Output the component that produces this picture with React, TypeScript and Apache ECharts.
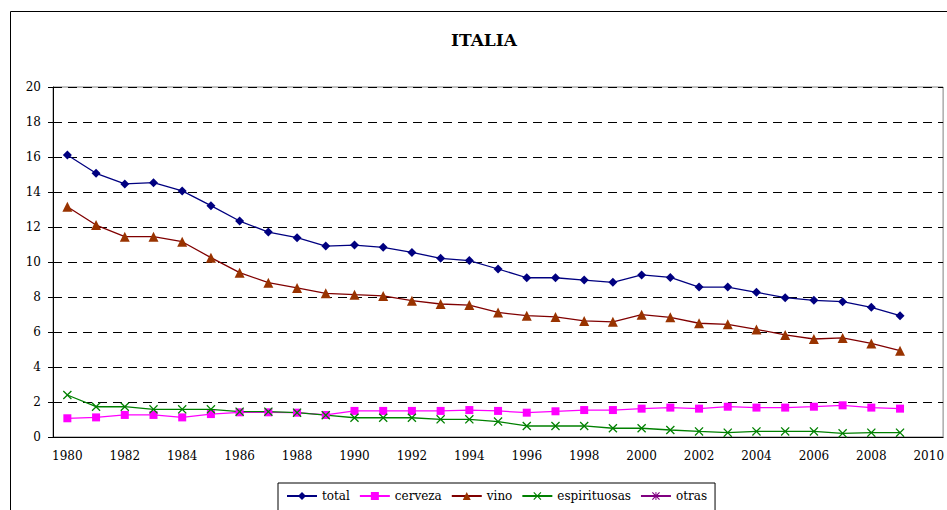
import React, { useEffect, useRef } from "react";
import * as echarts from "echarts";

const years = [
  "1980", "1981", "1982", "1983", "1984", "1985", "1986", "1987", "1988", "1989",
  "1990", "1991", "1992", "1993", "1994", "1995", "1996", "1997", "1998", "1999",
  "2000", "2001", "2002", "2003", "2004", "2005", "2006", "2007", "2008", "2009", "2010",
];
const total = [16.11, 15.07, 14.46, 14.53, 14.06, 13.22, 12.34, 11.71, 11.39, 10.91, 10.97, 10.84, 10.55, 10.21, 10.08, 9.6, 9.1, 9.1, 8.97, 8.84, 9.26, 9.12, 8.57, 8.57, 8.27, 7.96, 7.81, 7.73, 7.41, 6.93];
const cerveza = [1.07, 1.12, 1.26, 1.26, 1.12, 1.31, 1.41, 1.41, 1.39, 1.26, 1.49, 1.49, 1.49, 1.49, 1.54, 1.49, 1.39, 1.47, 1.54, 1.54, 1.62, 1.68, 1.62, 1.73, 1.68, 1.68, 1.73, 1.81, 1.68, 1.62];
const vino = [13.16, 12.11, 11.45, 11.45, 11.16, 10.25, 9.39, 8.82, 8.52, 8.21, 8.13, 8.06, 7.79, 7.6, 7.54, 7.12, 6.93, 6.86, 6.63, 6.58, 6.99, 6.84, 6.5, 6.44, 6.15, 5.83, 5.6, 5.66, 5.35, 4.93];
const espirituosas = [2.4, 1.73, 1.73, 1.58, 1.58, 1.58, 1.45, 1.45, 1.39, 1.25, 1.1, 1.1, 1.1, 1.01, 1.01, 0.88, 0.63, 0.63, 0.63, 0.5, 0.5, 0.4, 0.32, 0.25, 0.32, 0.32, 0.32, 0.21, 0.25, 0.25];
const otras: (number | null)[] = [];

const FONT = "DejaVu Serif";
const X_SYMBOL = "path://M0,1L1,0L5,4L9,0L10,1L6,5L10,9L9,10L5,6L1,10L0,9L4,5Z";
const STAR_SYMBOL = "path://M0,1L1,0L5,4L9,0L10,1L6,5L10,9L9,10L5,6L1,10L0,9L4,5Z M4.4,0L5.6,0L5.6,10L4.4,10Z";

export default function App() {
  const ref = useRef<HTMLDivElement>(null);
  useEffect(() => {
    if (!ref.current) return;
    const chart = echarts.init(ref.current, undefined, { renderer: "svg" });
    const mk = (name: string, data: (number | null)[], color: string, lineColor: string, symbol: string, size: number) => ({
      name,
      type: "line",
      data,
      symbol,
      symbolSize: size,
      showSymbol: true,
      lineStyle: { color: lineColor, width: 1.3 },
      itemStyle: { color, borderWidth: 0 },
    });
    chart.setOption({
      animation: false,
      textStyle: { fontFamily: FONT },
      title: {
        text: "ITALIA",
        left: 446,
        top: 26,
        textStyle: { fontFamily: FONT, fontSize: 17, fontWeight: "bold", color: "#000" },
      },
      graphic: [
        {
          type: "rect",
          silent: true,
          shape: { x: 10.5, y: 11.5, width: 1000, height: 600 },
          style: { fill: "transparent", stroke: "#000", lineWidth: 1 },
        },
      ],
      grid: {
        left: 53,
        right: 3,
        top: 87,
        bottom: 73,
        show: true,
        borderColor: "#808080",
        borderWidth: 1,
        backgroundColor: "transparent",
      },
      legend: {
        left: 278,
        top: 483,
        padding: [7, 8, 9, 8],
        itemGap: 9,
        itemWidth: 30,
        itemHeight: 10,
        backgroundColor: "#fff",
        borderColor: "#000",
        borderWidth: 1,
        textStyle: { fontFamily: FONT, fontSize: 12, color: "#000" },
        data: ["total", "cerveza", "vino", "espirituosas", "otras"],
      },
      xAxis: {
        type: "category",
        data: years,
        boundaryGap: true,
        axisLine: { lineStyle: { color: "#000", width: 1 } },
        axisTick: { interval: 0, length: 5, lineStyle: { color: "#000" } },
        axisLabel: { interval: 1, margin: 13, fontFamily: FONT, fontSize: 12, color: "#000" },
        splitLine: { show: false },
      },
      yAxis: {
        type: "value",
        min: 0,
        max: 20,
        interval: 2,
        axisLine: { show: true, lineStyle: { color: "#000", width: 1 } },
        axisTick: { show: true, length: 5, lineStyle: { color: "#000" } },
        axisLabel: { margin: 12, fontFamily: FONT, fontSize: 12, color: "#000" },
        splitLine: { show: true, lineStyle: { color: "#000", type: [9, 6], width: 1 } },
      },
      series: [
        mk("total", total, "#000080", "#000080", "diamond", 9),
        mk("cerveza", cerveza, "#FF00FF", "#FF00FF", "rect", 8),
        mk("vino", vino, "#993300", "#800000", "triangle", 10),
        mk("espirituosas", espirituosas, "#008000", "#008000", X_SYMBOL, 9),
        mk("otras", otras, "#800080", "#800080", STAR_SYMBOL, 9),
      ],
    });
    return () => chart.dispose();
  }, []);
  return (
    <div
      ref={ref}
      style={{ position: "fixed", left: 0, top: 0, width: 947, height: 510, background: "#fff" }}
    />
  );
}
